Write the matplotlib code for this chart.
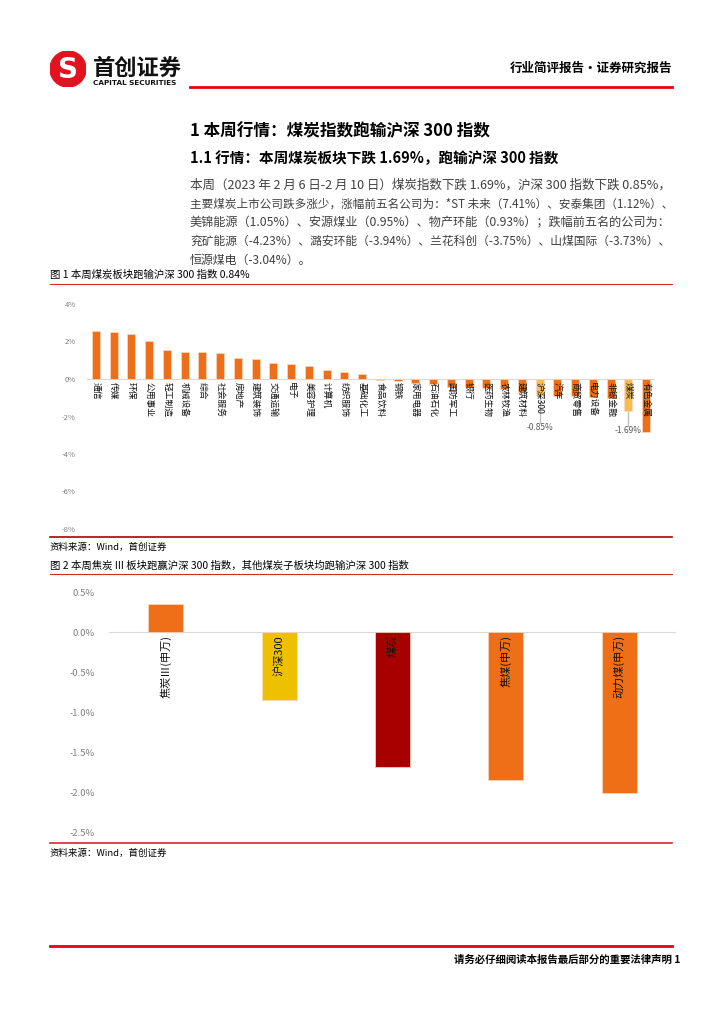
import matplotlib
matplotlib.use("Agg")
import matplotlib.pyplot as plt
from matplotlib.patches import Circle

plt.rcParams['font.family'] = ['Noto Sans CJK SC', 'DejaVu Sans']

# chart 1: weekly change of industry indices (%)
industries = ["通信", "传媒", "环保", "公用事业", "轻工制造", "机械设备", "综合", "社会服务",
              "房地产", "建筑装饰", "交通运输", "电子", "美容护理", "计算机", "纺织服饰", "基础化工",
              "食品饮料", "钢铁", "家用电器", "石油石化", "国防军工", "银行", "医药生物", "农林牧渔",
              "建筑材料", "沪深300", "汽车", "商贸零售", "电力设备", "非银金融", "煤炭", "有色金属"]
industry_chg = [2.55, 2.50, 2.38, 2.02, 1.56, 1.45, 1.42, 1.38,
                1.12, 1.05, 0.87, 0.80, 0.69, 0.46, 0.37, 0.27,
                -0.03, -0.08, -0.23, -0.28, -0.40, -0.45, -0.50, -0.55,
                -0.67, -0.85, -0.88, -0.90, -0.95, -1.00, -1.69, -2.80]
chart1_ticks = [4, 2, 0, -2, -4, -6, -8]

# chart 2: coal sub-sectors (%)
sectors = ["焦炭Ⅲ(申万)", "沪深300", "煤炭", "焦煤(申万)", "动力煤(申万)"]
sector_chg = [0.35, -0.85, -1.69, -1.85, -2.01]
chart2_ticks = [0.5, 0.0, -0.5, -1.0, -1.5, -2.0, -2.5]

body = ["本周（2023 年 2 月 6 日-2 月 10 日）煤炭指数下跌 1.69%，沪深 300 指数下跌 0.85%，",
        "主要煤炭上市公司跌多涨少，涨幅前五名公司为：*ST 未来（7.41%）、安泰集团（1.12%）、",
        "美锦能源（1.05%）、安源煤业（0.95%）、物产环能（0.93%）；跌幅前五名的公司为：",
        "兖矿能源（-4.23%）、潞安环能（-3.94%）、兰花科创（-3.75%）、山煤国际（-3.73%）、",
        "恒源煤电（-3.04%）。"]

W, H = 724, 1024
ORANGE = "#EE6F18"
LIGHT = "#F5BE4F"
RED = "#E60012"


def fx(x):
    return x / W


def fy(y):
    return 1 - y / H


def rect(x0, y0, x1, y1):
    return [fx(x0), fy(y1), fx(x1 - x0), (y1 - y0) / H]


def hline(fig, x0, x1, y, color, lw):
    fig.add_artist(plt.Line2D([fx(x0), fx(x1)], [fy(y), fy(y)], color=color, lw=lw,
                              transform=fig.transFigure))


def main():
    fig = plt.figure(figsize=(7.24, 10.24), dpi=100)
    renderer = fig.canvas.get_renderer()

    # header
    logo = fig.add_axes(rect(50, 51, 86, 87))
    logo.set_xlim(-1, 1)
    logo.set_ylim(-1, 1)
    logo.set_aspect("equal")
    logo.axis("off")
    logo.add_patch(Circle((0, 0), 1, color="#E0141E"))
    logo.text(0, -0.05, "S", color="white", fontsize=20, fontweight="bold",
              ha="center", va="center", family="DejaVu Sans")
    fig.text(fx(93), fy(68), "首创证券", fontsize=16, fontweight="bold", va="center", color="#111111")
    fig.text(fx(93), fy(83), "CAPITAL SECURITIES", fontsize=5.2, fontweight="bold",
             va="center", family="DejaVu Sans", color="#111111")
    hline(fig, 190, 672, 87, RED, 2)
    fig.text(fx(672), fy(68), "行业简评报告·证券研究报告", fontsize=9, fontweight="bold",
             ha="right", va="center")

    # headings and body
    fig.text(fx(190), fy(131), "1 本周行情：煤炭指数跑输沪深 300 指数", fontsize=12,
             fontweight="bold", va="center")
    fig.text(fx(190), fy(158), "1.1 行情：本周煤炭板块下跌 1.69%，跑输沪深 300 指数", fontsize=10.5,
             fontweight="bold", va="center")
    for i, line in enumerate(body):
        t = fig.text(fx(190), fy(185 + i * 18.8), line, fontsize=8.1, va="center", color="#404040")
        if i < len(body) - 1:
            w = t.get_window_extent(renderer).width
            t.set_fontsize(8.1 * 482 / w)
        else:
            t.set_fontsize(8.6)

    # chart 1
    fig.text(fx(50), fy(275), "图 1 本周煤炭板块跑输沪深 300 指数 0.84%", fontsize=7.5, va="center")
    hline(fig, 50, 672, 284, "#D7262C", 0.8)
    ax1 = fig.add_axes(rect(87, 304, 655, 529))
    x1 = list(range(len(industries)))
    colors1 = [LIGHT if n in ("沪深300", "煤炭") else ORANGE for n in industries]
    ax1.bar(x1, industry_chg, width=0.45, color=colors1, edgecolor="#FBD9C0", linewidth=0.5, zorder=2)
    ax1.axhline(0, color="#D9D9D9", lw=0.8, zorder=1)
    ax1.set_ylim(-8, 4)
    ax1.set_xlim(-0.5, len(industries) - 0.5)
    ax1.set_yticks(chart1_ticks)
    ax1.set_yticklabels([f"{t}%" for t in chart1_ticks], fontsize=5.5, color="#7F7F7F")
    ax1.tick_params(axis="y", length=0, pad=8)
    ax1.set_xticks([])
    for s in ax1.spines.values():
        s.set_visible(False)
    for i, name in enumerate(industries):
        ax1.text(i, -0.15, name, rotation=270, ha="center", va="top", fontsize=6.3,
                 color="#111111", zorder=3)
    for name, lab_y in (("沪深300", -2.6), ("煤炭", -2.75)):
        i = industries.index(name)
        v = industry_chg[i]
        ax1.plot([i, i], [v, lab_y + 0.25], color="#BFBFBF", lw=1, zorder=1)
        ax1.text(i, lab_y, f"{v:.2f}%", ha="center", va="center", fontsize=6, color="#595959")
    hline(fig, 50, 672, 537, "#B00000", 1.2)
    fig.text(fx(50), fy(547), "资料来源：Wind，首创证券", fontsize=6.8, va="center", style="italic")

    # chart 2
    fig.text(fx(50), fy(566), "图 2 本周焦炭 III 板块跑赢沪深 300 指数，其他煤炭子板块均跑输沪深 300 指数",
             fontsize=7.5, va="center")
    hline(fig, 50, 672, 574, "#D7262C", 0.8)
    ax2 = fig.add_axes(rect(109, 592, 676, 832))
    x2 = list(range(len(sectors)))
    colors2 = [ORANGE, "#EEC100", "#A80000", ORANGE, ORANGE]
    ax2.bar(x2, sector_chg, width=0.31, color=colors2, edgecolor="#FBD9C0", linewidth=0.5, zorder=2)
    ax2.axhline(0, color="#D9D9D9", lw=0.8, zorder=1)
    ax2.set_ylim(-2.5, 0.5)
    ax2.set_xlim(-0.5, len(sectors) - 0.5)
    ax2.set_yticks(chart2_ticks)
    ax2.set_yticklabels([f"{t:.1f}%" for t in chart2_ticks], fontsize=6.8, color="#7F7F7F")
    ax2.tick_params(axis="y", length=0, pad=10)
    ax2.set_xticks([])
    for s in ax2.spines.values():
        s.set_visible(False)
    for i, name in enumerate(sectors):
        ax2.text(i, -0.04, name, rotation=90, ha="center", va="top", fontsize=8,
                 color="#111111", zorder=3)
    hline(fig, 50, 672, 843, "#D7262C", 1.2)
    fig.text(fx(50), fy(853), "资料来源：Wind，首创证券", fontsize=6.8, va="center", style="italic")

    # footer
    hline(fig, 50, 672, 946, RED, 2)
    fig.text(fx(680), fy(960), "请务必仔细阅读本报告最后部分的重要法律声明 1", fontsize=7.5,
             fontweight="bold", ha="right", va="center")

    fig.savefig("out.png", dpi=100, facecolor="white")


if __name__ == "__main__":
    main()
